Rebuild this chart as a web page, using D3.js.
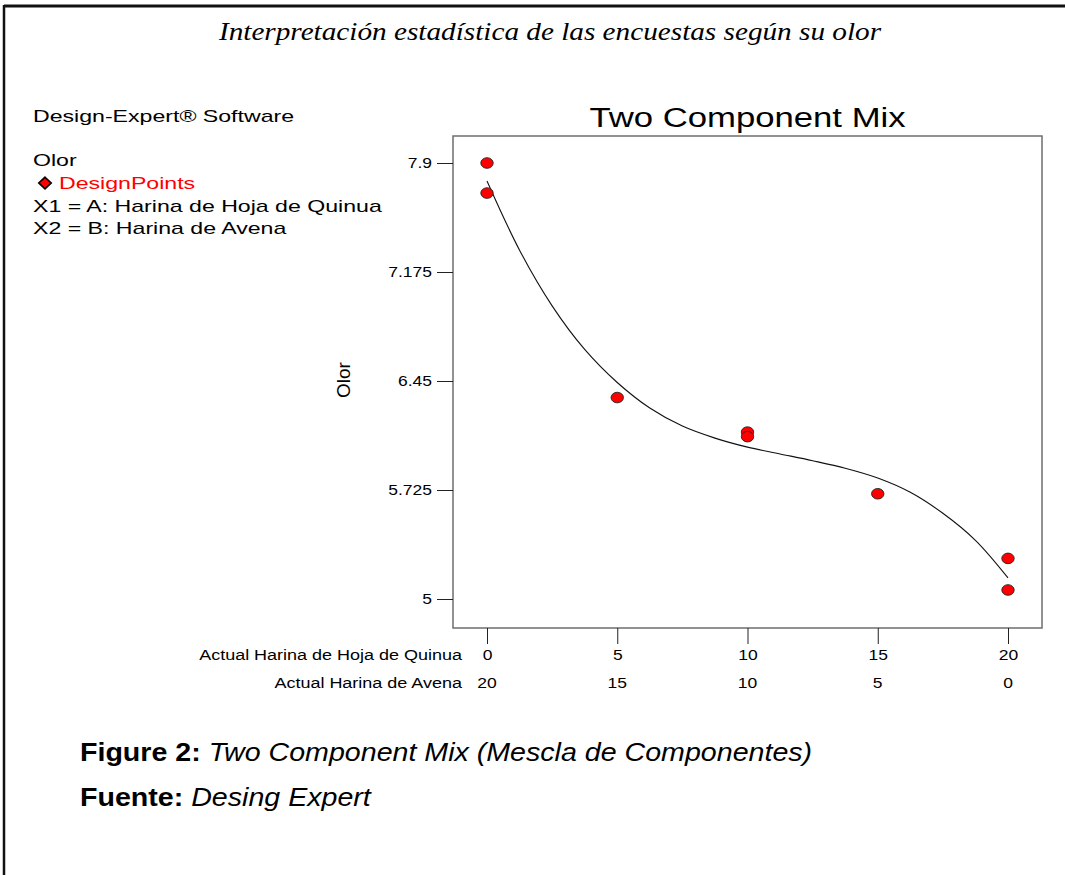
<!DOCTYPE html>
<html>
<head>
<meta charset="utf-8">
<script src="https://cdn.jsdelivr.net/npm/d3@7"></script>
<style>
  body { margin: 0; background: white; }
</style>
</head>
<body>
<div id="container"></div>
<script>
let w = 1065;
let h = 875;

// DATA
let quinua = [0, 0, 5, 10, 10, 15, 20, 20];        // A: Harina de Hoja de Quinua
let olor = [7.9, 7.70, 6.34, 6.11, 6.08, 5.70, 5.27, 5.06];
let fitA = [0, 1.25, 2.5, 3.75, 5, 6.25, 7.5, 8.75, 10, 11.25, 12.5, 13.75, 15, 16.25, 17.5, 18.75, 20];
let fitOlor = [7.78, 7.32, 6.95, 6.66, 6.44, 6.27, 6.15, 6.07, 6.01, 5.965, 5.92, 5.87, 5.805, 5.71, 5.57, 5.39, 5.14];
let yTicks = [5, 5.725, 6.45, 7.175, 7.9];
let xTicks = [0, 5, 10, 15, 20];
let legendLines = ["X1 = A: Harina de Hoja de Quinua", "X2 = B: Harina de Avena"];

let viz = d3.select("#container").append("svg")
  .attr("width", w)
  .attr("height", h)
  .style("display", "block")
  .style("font-family", "'Liberation Sans', Arial, sans-serif");

// the text in the picture is stretched sideways, so stretch around its anchor
function wide(sel, sx) {
  sel.each(function() {
    let t = d3.select(this);
    let x = +t.attr("x") || 0;
    t.attr("x", x / sx).attr("transform", "scale(" + sx + ",1)");
  });
}

// frame of the clipped page
viz.append("line").attr("x1", 4).attr("x2", w).attr("y1", 6).attr("y2", 6)
  .attr("stroke", "#111").attr("stroke-width", 3);
viz.append("line").attr("x1", 4).attr("x2", 4).attr("y1", 5).attr("y2", h)
  .attr("stroke", "#111").attr("stroke-width", 2.5);

viz.append("text")
  .attr("x", 550).attr("y", 40)
  .attr("text-anchor", "middle")
  .style("font-family", "'Liberation Serif', 'DejaVu Serif', serif")
  .style("font-style", "italic")
  .style("font-size", "25px")
  .text("Interpretación estadística de las encuestas según su olor")
  .call(wide, 1.17);

// left info block
viz.append("text").attr("x", 33).attr("y", 122).style("font-size", "17px")
  .text("Design-Expert® Software").call(wide, 1.36);
viz.append("text").attr("x", 33).attr("y", 166).style("font-size", "17px")
  .text("Olor").call(wide, 1.36);
viz.append("path")
  .attr("d", d3.symbol(d3.symbolDiamond, 64)())
  .attr("transform", "translate(45,183) scale(1.45,0.78)")
  .attr("fill", "red").attr("stroke", "black").attr("stroke-width", 1.4);
viz.append("text").attr("x", 59).attr("y", 189).style("font-size", "17px")
  .attr("fill", "red").text("DesignPoints").call(wide, 1.36);
viz.selectAll(".legline").data(legendLines).enter()
  .append("text")
  .attr("class", "legline")
  .attr("x", 33)
  .attr("y", function(d, i) { return 212 + i * 22; })
  .style("font-size", "17px")
  .text(function(d) { return d; })
  .call(wide, 1.36);

// plot box
let box = { left: 453, top: 136, right: 1042, bottom: 628 };

let xScale = d3.scaleLinear().domain([0, 20]).range([487, 1008]);
let yScale = d3.scaleLinear().domain([5, 7.9]).range([599, 163]);

viz.append("rect")
  .attr("x", box.left).attr("y", box.top)
  .attr("width", box.right - box.left).attr("height", box.bottom - box.top)
  .attr("fill", "none").attr("stroke", "#6e6e6e").attr("stroke-width", 1.5);

viz.append("text")
  .attr("x", (box.left + box.right) / 2).attr("y", 127)
  .attr("text-anchor", "middle")
  .style("font-size", "28px")
  .text("Two Component Mix")
  .call(wide, 1.24);

let yAxis = d3.axisLeft(yScale).tickValues(yTicks).tickSize(16).tickPadding(5)
  .tickFormat(function(d) { return String(d); });
let gy = viz.append("g").attr("transform", "translate(" + box.left + ",0)").call(yAxis);
gy.select(".domain").remove();
gy.selectAll("line").attr("stroke", "#222");
gy.selectAll("text").style("font-size", "14px").style("font-family", "'Liberation Sans', Arial, sans-serif")
  .call(wide, 1.25);

let xAxis = d3.axisBottom(xScale).tickValues(xTicks).tickSize(16).tickPadding(6)
  .tickFormat(d3.format("d"));
let gx = viz.append("g").attr("transform", "translate(0," + box.bottom + ")").call(xAxis);
gx.select(".domain").remove();
gx.selectAll("line").attr("stroke", "#222");
gx.selectAll("text").style("font-size", "14px").style("font-family", "'Liberation Sans', Arial, sans-serif")
  .call(wide, 1.25);

// second row: component B = 20 - A
viz.selectAll(".btick").data(xTicks).enter()
  .append("text")
  .attr("class", "btick")
  .attr("x", function(d) { return xScale(d); })
  .attr("y", 688)
  .attr("text-anchor", "middle")
  .style("font-size", "14px")
  .text(function(d) { return 20 - d; })
  .call(wide, 1.25);

viz.append("text").attr("x", 462).attr("y", 660).attr("text-anchor", "end")
  .style("font-size", "15px").text("Actual Harina de Hoja de Quinua").call(wide, 1.2);
viz.append("text").attr("x", 462).attr("y", 688).attr("text-anchor", "end")
  .style("font-size", "15px").text("Actual Harina de Avena").call(wide, 1.2);

viz.append("text")
  .attr("transform", "translate(350,380) rotate(-90)")
  .attr("text-anchor", "middle")
  .style("font-size", "19px")
  .text("Olor");

// fitted curve
let fitData = fitA.map(function(a, i) { return { a: a, y: fitOlor[i] }; });
let lineMaker = d3.line()
  .x(function(d) { return xScale(d.a); })
  .y(function(d) { return yScale(d.y); })
  .curve(d3.curveCatmullRom);
viz.append("path")
  .datum(fitData)
  .attr("d", lineMaker)
  .attr("fill", "none").attr("stroke", "#111").attr("stroke-width", 1.1);

// design points
let points = quinua.map(function(a, i) { return { a: a, y: olor[i] }; });
viz.selectAll(".pt").data(points).enter()
  .append("ellipse")
  .attr("class", "pt")
  .attr("cx", function(d) { return xScale(d.a); })
  .attr("cy", function(d) { return yScale(d.y); })
  .attr("rx", 6.2).attr("ry", 5.3)
  .attr("fill", "red").attr("stroke", "#222").attr("stroke-width", 0.9);

// caption
let cap1 = viz.append("text").attr("x", 80).attr("y", 761).style("font-size", "26px");
cap1.append("tspan").style("font-weight", "bold").text("Figure 2:");
cap1.append("tspan").style("font-style", "italic").text(" Two Component Mix (Mescla de Componentes)");
cap1.call(wide, 1.1);
let cap2 = viz.append("text").attr("x", 80).attr("y", 806).style("font-size", "26px");
cap2.append("tspan").style("font-weight", "bold").text("Fuente:");
cap2.append("tspan").style("font-style", "italic").text(" Desing Expert");
cap2.call(wide, 1.1);
</script>
</body>
</html>
